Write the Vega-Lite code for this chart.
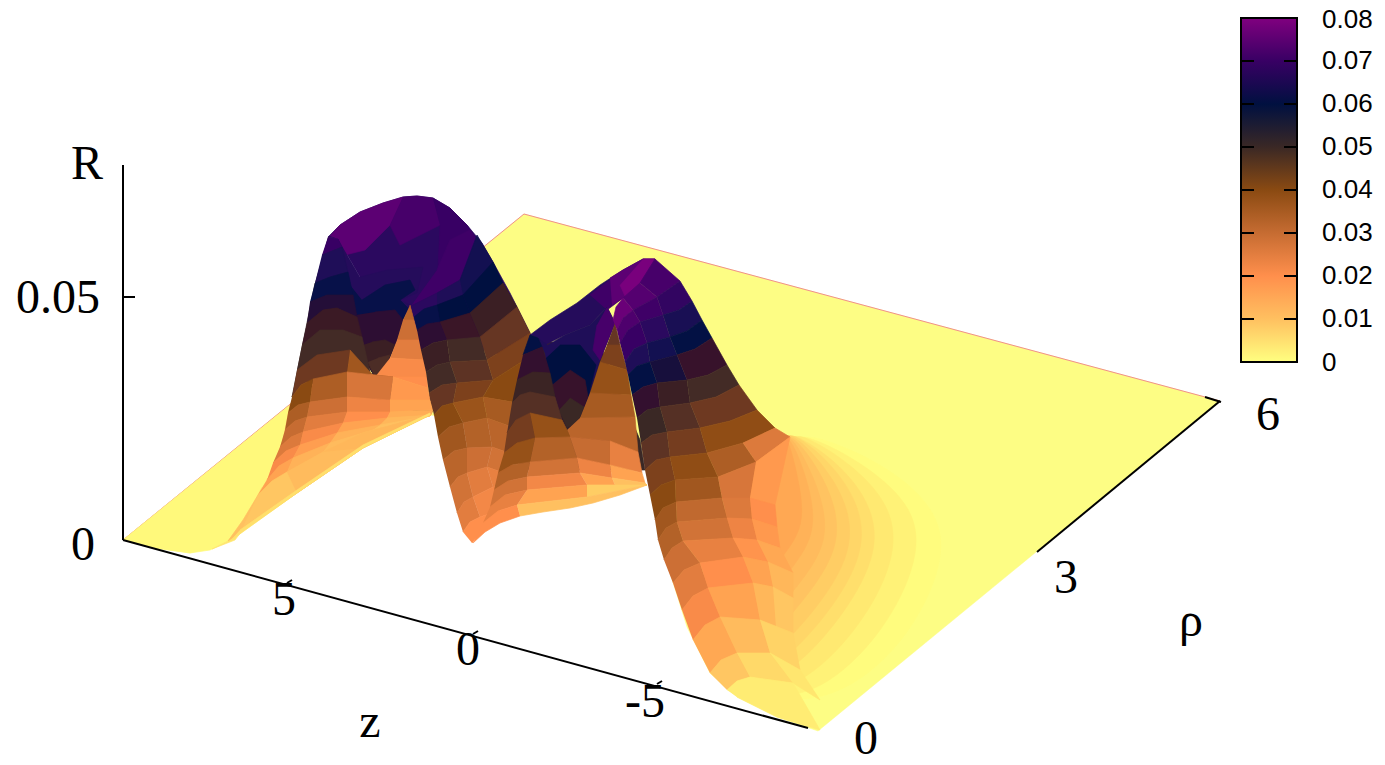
{"$schema":"https://vega.github.io/schema/vega-lite/v6.json","width":1385,"height":765,"padding":0,"autosize":"none","background":"white","config":{"view":{"stroke":null}},
"encoding":{"x":{"field":"x","type":"quantitative","axis":null,"scale":{"domain":[0,1385],"range":[0,1385]}},"y":{"field":"y","type":"quantitative","axis":null,"scale":{"domain":[0,765],"range":[0,765]}}},
"layer":[
{"data":{"values":[{"x":[123,524,1220,818,777,737,710,687,667,650,640,430,363,297,230,190,155],"y":[540,214,401,731,717,697,673,627,563,490,440,415,448,493,541,553,548]}]},"transform":[{"flatten":["x","y"]}],"mark":{"type":"line","fill":"#fdfd84","stroke":"#fdfd84","strokeWidth":0.5},"encoding":{"order":{"value":null}}},
{"data":{"values":[{"x":[123,524,1220],"y":[540,214,401]}]},"transform":[{"flatten":["x","y"]}],"mark":{"type":"line","stroke":"#f0908a","strokeWidth":1},"encoding":{"order":{"value":null}}},
{"data":{"values":[
{"v":0.001,"x":[123,290,283,270,255,243,228,210,190,155],"y":[540,405,440,475,500,520,541,550,553,548]},
{"v":0.004,"x":[262,245,228,212,235,258],"y":[487,520,541,549,540,510]},
{"v":0.01,"x":[290,283,270,255,243,228,297,363,430,300],"y":[405,440,475,500,520,541,493,448,415,380]},
{"v":0.05,"x":[328,338,350,370,400,440,430,300,292,315],"y":[237,239,270,375,380,400,415,380,397,283]},
{"v":0.068,"x":[328,340,360,383,403,417,433,450,467,482,493,510,530,520,415,400,360,338],"y":[237,225,212,203,197,196,198,208,225,243,262,293,333,360,330,300,277,239]},
{"v":0.075,"x":[330,340,360,383,403,390,365,345,338],"y":[236,225,212,203,197,225,250,255,239]},
{"v":0.072,"x":[403,417,433,440,400,390],"y":[197,196,198,225,245,225]},
{"v":0.07,"x":[433,450,467,477,460,437,440],"y":[198,208,225,240,280,293,225]},
{"v":0.067,"x":[338,347,357,367,375,385,397,403,410,400,417,423,387,360],"y":[239,273,317,363,377,368,340,320,305,300,293,267,270,277]},
{"v":0.062,"x":[350,357,367,375,385,397,403,408,400,415,410,385,362],"y":[285,317,363,377,368,340,320,308,300,290,280,285,300]},
{"v":0.057,"x":[356,367,375,385,397,403,395,375],"y":[315,363,377,368,340,320,310,312]},
{"v":0.052,"x":[363,367,375,385,395,385,372],"y":[345,363,377,368,345,340,342]},
{"v":0.048,"x":[368,375,385,390,378],"y":[362,377,368,355,358]},
{"v":0.032,"x":[410,414,403],"y":[305,320,320]},
{"v":0.029,"x":[403,414,420,397],"y":[320,320,340,340]},
{"v":0.025,"x":[397,420,424,390],"y":[340,340,360,358]},
{"v":0.021,"x":[390,424,427,375],"y":[358,360,377,377]},
{"v":0.07,"x":[328,338,342,322],"y":[237,239,247,255]},
{"v":0.066,"x":[322,342,348,330,315],"y":[255,247,272,277,283]},
{"v":0.062,"x":[315,330,348,353,327,310],"y":[283,277,272,295,295,302]},
{"v":0.058,"x":[310,327,353,357,337,323,307],"y":[302,295,295,317,308,310,323]},
{"v":0.053,"x":[307,323,337,357,362,343,320,302],"y":[323,310,308,317,337,330,330,345]},
{"v":0.049,"x":[302,320,343,362,370,350,317,297],"y":[345,330,330,337,372,350,355,370]},
{"v":0.044,"x":[297,317,350,347,313,301,292],"y":[370,355,350,372,379,385,397]},
{"v":0.036,"x":[350,370,375,393,347],"y":[350,372,377,377,372]},
{"v":0.02,"x":[375,427,428,393],"y":[377,377,388,377]},
{"v":0.04,"x":[292,301,313,310,298,288],"y":[397,385,379,402,405,413]},
{"v":0.034,"x":[313,347,347,310],"y":[379,372,397,402]},
{"v":0.027,"x":[347,393,390,347],"y":[372,377,400,397]},
{"v":0.018,"x":[393,428,430,390],"y":[377,388,400,400]},
{"v":0.034,"x":[288,298,310,307,295,285],"y":[413,405,402,417,421,430]},
{"v":0.029,"x":[310,347,347,307],"y":[402,397,412,417]},
{"v":0.023,"x":[347,390,390,347],"y":[397,400,412,412]},
{"v":0.016,"x":[390,430,433,390],"y":[400,400,410,412]},
{"v":0.03,"x":[285,295,307,303,291,280],"y":[430,421,417,432,437,447]},
{"v":0.025,"x":[307,347,343,303],"y":[417,412,423,432]},
{"v":0.02,"x":[347,390,387,343],"y":[412,412,418,423]},
{"v":0.014,"x":[390,433,431,387],"y":[412,410,415,418]},
{"v":0.026,"x":[280,291,303,300,286,273],"y":[447,437,432,445,451,463]},
{"v":0.021,"x":[303,343,337,300],"y":[432,423,433,445]},
{"v":0.016,"x":[343,387,380,337],"y":[423,418,425,433]},
{"v":0.012,"x":[387,431,430,380],"y":[418,415,416,425]},
{"v":0.021,"x":[273,286,300,293,279,267],"y":[463,451,445,458,466,480]},
{"v":0.017,"x":[300,337,330,293],"y":[445,433,443,458]},
{"v":0.013,"x":[337,380,373,330],"y":[433,425,430,443]},
{"v":0.01,"x":[380,430,373],"y":[425,416,430]},
{"v":0.016,"x":[267,279,293,287,272,258],"y":[480,466,458,472,481,495]},
{"v":0.013,"x":[293,330,323,287],"y":[458,443,452,472]},
{"v":0.011,"x":[330,373,430,363,323],"y":[443,430,415,433,452]},
{"v":0.009,"x":[258,272,287,297,243],"y":[495,481,472,493,527]},
{"v":0.011,"x":[287,323,363,297],"y":[472,452,448,493]},
{"v":0.012,"x":[323,363,430,363],"y":[452,433,415,448]},
{"v":0.005,"x":[240,297,363,430,430,363,297,230],"y":[530,490,445,413,415,448,493,541]},
{"v":0.071,"x":[411,437,460,477,470,450,437],"y":[306,293,280,240,230,240,270]},
{"v":0.068,"x":[411,437,437,424,414],"y":[306,293,305,309,317]},
{"v":0.066,"x":[437,460,463,437],"y":[293,280,295,305]},
{"v":0.064,"x":[460,477,493,463],"y":[280,235,262,295]},
{"v":0.062,"x":[414,424,437,440,427,417],"y":[317,309,305,322,324,330]},
{"v":0.06,"x":[437,463,470,440],"y":[305,295,313,322]},
{"v":0.06,"x":[463,493,503,470],"y":[295,262,283,313]},
{"v":0.057,"x":[417,427,440,447,433,421],"y":[330,324,322,340,343,350]},
{"v":0.054,"x":[440,470,480,447],"y":[322,313,337,340]},
{"v":0.052,"x":[470,503,517,480],"y":[313,283,307,337]},
{"v":0.052,"x":[421,433,447,450,437,426],"y":[350,343,340,362,365,372]},
{"v":0.049,"x":[447,480,487,450],"y":[340,337,360,362]},
{"v":0.045,"x":[480,517,530,487],"y":[337,307,333,360]},
{"v":0.049,"x":[426,437,450,457,442,429],"y":[372,365,362,383,385,393]},
{"v":0.046,"x":[450,487,493,457],"y":[362,360,380,383]},
{"v":0.042,"x":[487,530,540,493],"y":[360,333,350,380]},
{"v":0.045,"x":[429,442,457,453,442,434],"y":[393,385,383,403,406,415]},
{"v":0.042,"x":[457,493,483,453],"y":[383,380,397,403]},
{"v":0.04,"x":[493,540,530,483],"y":[380,350,405,397]},
{"v":0.04,"x":[434,442,453,463,449,438],"y":[415,406,403,423,427,437]},
{"v":0.037,"x":[453,483,487,463],"y":[403,397,418,423]},
{"v":0.035,"x":[483,530,520,487],"y":[397,405,430,418]},
{"v":0.036,"x":[438,449,463,467,454,443],"y":[437,427,423,448,451,460]},
{"v":0.033,"x":[463,487,492,467],"y":[423,418,447,448]},
{"v":0.032,"x":[487,520,515,492],"y":[418,430,455,447]},
{"v":0.032,"x":[443,454,467,467,458,450],"y":[460,451,448,473,477,487]},
{"v":0.029,"x":[467,492,487,467],"y":[448,447,467,473]},
{"v":0.028,"x":[492,515,510,487],"y":[447,455,475,467]},
{"v":0.028,"x":[450,458,467,473,464,457],"y":[487,477,473,497,502,513]},
{"v":0.025,"x":[467,487,493,473],"y":[473,467,487,497]},
{"v":0.024,"x":[487,510,510,493],"y":[467,475,485,487]},
{"v":0.025,"x":[457,464,473,480,470,463],"y":[513,502,497,517,522,532]},
{"v":0.022,"x":[473,493,510,500,480],"y":[497,487,485,510,517]},
{"v":0.02,"x":[463,470,480,500,472],"y":[532,522,517,510,543]},
{"v":0.05,"x":[530,540,560,600,640,645,520,515],"y":[335,338,345,345,440,470,470,400]},
{"v":0.067,"x":[530,550,577,600,623,643,655,640,623,607,590,565,545,538],"y":[335,320,303,285,270,259,259,283,298,307,325,335,345,338]},
{"v":0.071,"x":[590,610,635,640,623,607],"y":[295,280,268,283,298,310]},
{"v":0.075,"x":[610,623,643,655,640,623,612],"y":[278,270,259,259,283,298,305]},
{"v":0.079,"x":[643,655,640,625,620],"y":[259,259,283,296,285]},
{"v":0.066,"x":[538,545,553,560,567,578,588,600,615,607,590,565,548],"y":[338,353,387,413,428,422,397,360,323,307,325,335,345]},
{"v":0.06,"x":[546,553,560,567,578,588,596,580,560],"y":[358,387,413,428,422,397,365,345,345]},
{"v":0.055,"x":[552,560,567,578,588,585,570],"y":[385,413,428,422,397,380,370]},
{"v":0.05,"x":[559,567,578,584,570],"y":[410,428,422,407,398]},
{"v":0.072,"x":[607,615,600,593,597],"y":[307,323,360,350,325]},
{"v":0.045,"x":[615,620,607],"y":[323,345,345]},
{"v":0.042,"x":[607,620,627,600],"y":[345,345,370,362]},
{"v":0.038,"x":[600,627,631,590],"y":[362,370,395,393]},
{"v":0.035,"x":[590,631,635,580],"y":[393,395,417,418]},
{"v":0.032,"x":[580,635,638,610,570,567],"y":[418,417,452,441,437,430]},
{"v":0.061,"x":[523,530,538,542],"y":[355,335,338,347]},
{"v":0.056,"x":[523,542,550,533,517],"y":[355,347,373,372,380]},
{"v":0.051,"x":[517,533,550,555,530,520,512],"y":[380,372,373,397,392,395,403]},
{"v":0.047,"x":[512,520,530,555,562,530,516,507],"y":[403,395,392,397,420,413,420,433]},
{"v":0.043,"x":[507,516,530,535,517,504],"y":[433,420,413,438,443,453]},
{"v":0.038,"x":[530,562,567,570,535],"y":[413,420,430,437,438]},
{"v":0.038,"x":[504,517,535,530,512,498],"y":[453,443,438,462,465,473]},
{"v":0.033,"x":[535,570,577,530],"y":[438,437,458,462]},
{"v":0.03,"x":[570,610,610,577],"y":[437,441,465,458]},
{"v":0.024,"x":[610,638,642,610],"y":[441,452,473,465]},
{"v":0.033,"x":[498,512,530,527,508,494],"y":[473,465,462,477,481,490]},
{"v":0.028,"x":[530,577,580,527],"y":[462,458,473,477]},
{"v":0.023,"x":[577,610,612,580],"y":[458,465,478,473]},
{"v":0.016,"x":[610,642,645,612],"y":[465,473,483,478]},
{"v":0.028,"x":[494,508,527,527,505,490],"y":[490,481,477,490,495,507]},
{"v":0.022,"x":[527,580,587,527],"y":[477,473,485,490]},
{"v":0.016,"x":[580,612,615,587],"y":[473,478,485,485]},
{"v":0.01,"x":[612,645,647,615],"y":[478,483,485,485]},
{"v":0.024,"x":[490,505,527,517,498,483],"y":[507,495,490,505,511,523]},
{"v":0.016,"x":[527,587,587,517],"y":[490,485,497,505]},
{"v":0.008,"x":[587,647,587],"y":[485,485,497]},
{"v":0.02,"x":[483,498,517,520,500,485,473],"y":[523,511,505,516,523,532,543]},
{"v":0.01,"x":[517,587,647,620,593,570,543,520],"y":[505,497,485,495,503,508,512,516]}
]},
"transform":[{"window":[{"op":"row_number","as":"cell"}]},{"flatten":["x","y"]}],
"mark":{"type":"line","strokeWidth":0.7,"strokeJoin":"round"},
"encoding":{"detail":{"field":"cell","type":"nominal"},"order":{"value":null},
"fill":{"field":"v","type":"quantitative","legend":null,"scale":{"domain":[0,0.01,0.02,0.03,0.04,0.05,0.06,0.07,0.08],"range":["#ffff80","#ffc060","#ff8f4c","#c66c32","#8a4a12","#3a2825","#001040","#380064","#80007f"]}},
"stroke":{"field":"v","type":"quantitative","legend":null,"scale":{"domain":[0,0.01,0.02,0.03,0.04,0.05,0.06,0.07,0.08],"range":["#ffff80","#ffc060","#ff8f4c","#c66c32","#8a4a12","#3a2825","#001040","#380064","#80007f"]}}}},
{"data":{"values":[
{"v":0.0005,"x":[760,835,905,945,940,890,825,780,700,700],"y":[700,702,645,565,512,467,438,430,560,680]},
{"v":0.002,"x":[760,820,885,920,915,868,815,780,700,700],"y":[698,695,632,558,508,466,438,430,560,675]},
{"v":0.0035,"x":[755,805,865,898,890,850,808,780,700,700],"y":[692,685,622,553,503,463,437,430,560,668]},
{"v":0.005,"x":[750,790,845,880,870,835,800,780,700,700],"y":[685,675,615,550,500,460,437,430,560,660]},
{"v":0.0065,"x":[745,780,835,867,857,825,797,778,700,700],"y":[680,667,607,547,497,457,436,430,560,655]},
{"v":0.008,"x":[740,770,825,855,845,815,795,775,700,700],"y":[675,660,600,545,495,455,436,430,560,650]},
{"v":0.0095,"x":[735,760,812,842,832,807,792,772,700,700],"y":[668,650,592,542,492,452,436,430,560,645]},
{"v":0.011,"x":[730,750,800,830,820,800,790,770,700,700],"y":[660,640,585,540,490,450,436,430,560,640]},
{"v":0.013,"x":[725,742,787,817,810,795,787,767,700,700],"y":[650,630,575,535,487,447,436,429,560,630]},
{"v":0.015,"x":[720,735,775,805,800,790,785,765,700,700],"y":[640,620,565,530,485,445,436,428,560,620]}
]},"transform":[{"window":[{"op":"row_number","as":"cell"}]},{"flatten":["x","y"]}],
"mark":{"type":"line","strokeWidth":0.5,"interpolate":"basis-closed"},
"encoding":{"detail":{"field":"cell","type":"nominal"},"order":{"value":null},"fill":{"field":"v","type":"quantitative","legend":null},"stroke":{"field":"v","type":"quantitative","legend":null}}},
{"data":{"values":[
{"v":0.077,"x":[613,616,623,633,623,617],"y":[320,307,298,310,318,330]},
{"v":0.074,"x":[623,640,657,633],"y":[298,283,297,310]},
{"v":0.072,"x":[640,655,680,657],"y":[283,259,281,297]},
{"v":0.073,"x":[617,623,633,640,628,620],"y":[330,318,310,322,330,343]},
{"v":0.071,"x":[633,657,663,640],"y":[310,297,315,322]},
{"v":0.069,"x":[657,680,692,679,663],"y":[297,281,301,310,315]},
{"v":0.07,"x":[620,628,640,647,634,625],"y":[343,330,322,343,349,362]},
{"v":0.068,"x":[640,663,670,647],"y":[322,315,337,343]},
{"v":0.065,"x":[663,679,692,702,687,670],"y":[315,310,301,320,331,337]},
{"v":0.066,"x":[625,634,647,650,637,628],"y":[362,349,343,362,366,375]},
{"v":0.064,"x":[647,670,677,650],"y":[343,337,355,362]},
{"v":0.061,"x":[670,687,702,712,695,677],"y":[337,331,320,338,349,355]},
{"v":0.061,"x":[628,637,650,657,643,632],"y":[375,366,362,383,387,395]},
{"v":0.059,"x":[650,677,687,657],"y":[362,355,380,383]},
{"v":0.055,"x":[677,695,712,727,708,687],"y":[355,349,338,365,375,380]},
{"v":0.056,"x":[632,643,657,660,647,637],"y":[395,387,383,407,410,418]},
{"v":0.052,"x":[657,687,690,660],"y":[383,380,403,407]},
{"v":0.049,"x":[687,708,727,739,716,690],"y":[380,375,365,385,397,403]},
{"v":0.05,"x":[637,647,660,667,652,641],"y":[418,410,407,432,435,443]},
{"v":0.047,"x":[660,690,700,667],"y":[407,403,428,432]},
{"v":0.044,"x":[690,716,739,757,730,700],"y":[403,397,385,410,421,428]},
{"v":0.046,"x":[641,652,667,670,656,645],"y":[443,435,432,457,460,470]},
{"v":0.043,"x":[667,700,707,670],"y":[432,428,453,457]},
{"v":0.039,"x":[700,730,757,775,743,707],"y":[428,421,410,428,443,453]},
{"v":0.042,"x":[645,656,670,675,661,650],"y":[470,460,457,480,485,495]},
{"v":0.039,"x":[670,707,718,675],"y":[457,453,477,480]},
{"v":0.034,"x":[707,743,756,718],"y":[453,443,462,477]},
{"v":0.026,"x":[743,775,790,756],"y":[443,428,437,462]},
{"v":0.04,"x":[650,661,675,676,663,655],"y":[495,485,480,502,508,520]},
{"v":0.036,"x":[675,718,722,676],"y":[480,477,498,502]},
{"v":0.027,"x":[718,756,750,722],"y":[477,462,498,498]},
{"v":0.018,"x":[756,790,775,750],"y":[462,437,505,498]},
{"v":0.036,"x":[655,663,676,677,666,658],"y":[520,508,502,522,528,540]},
{"v":0.031,"x":[676,722,727,677],"y":[502,498,518,522]},
{"v":0.026,"x":[722,750,752,727],"y":[498,498,519,518]},
{"v":0.02,"x":[750,775,777,752],"y":[498,505,527,519]},
{"v":0.033,"x":[658,666,677,683,672,664],"y":[540,528,522,541,548,560]},
{"v":0.028,"x":[677,727,733,683],"y":[522,518,538,541]},
{"v":0.023,"x":[727,752,757,733],"y":[518,519,540,538]},
{"v":0.018,"x":[752,777,780,757],"y":[519,527,548,540]},
{"v":0.029,"x":[664,672,683,700,684,673],"y":[560,548,541,563,570,583]},
{"v":0.024,"x":[683,733,743,700],"y":[541,538,557,563]},
{"v":0.019,"x":[733,757,768,743],"y":[538,540,562,557]},
{"v":0.015,"x":[757,780,793,768],"y":[540,548,573,562]},
{"v":0.025,"x":[673,684,700,708,693,682],"y":[583,570,563,588,596,610]},
{"v":0.02,"x":[700,743,753,708],"y":[563,557,583,588]},
{"v":0.016,"x":[743,768,773,753],"y":[557,562,587,583]},
{"v":0.012,"x":[768,793,793,773],"y":[562,573,598,587]},
{"v":0.021,"x":[682,693,708,720,705,693],"y":[610,596,588,617,625,640]},
{"v":0.016,"x":[708,753,760,720],"y":[588,583,620,617]},
{"v":0.012,"x":[753,773,776,760],"y":[583,587,627,620]},
{"v":0.009,"x":[773,793,793,776],"y":[587,598,633,627]},
{"v":0.015,"x":[693,705,720,737,721,710],"y":[640,625,617,653,660,673]},
{"v":0.011,"x":[720,760,770,737],"y":[617,620,653,653]},
{"v":0.007,"x":[760,793,800,770],"y":[620,633,670,653]},
{"v":0.009,"x":[710,721,737,750,737,727],"y":[673,660,653,677,681,690]},
{"v":0.006,"x":[737,770,793,750],"y":[653,653,683,677]},
{"v":0.004,"x":[770,800,820,793],"y":[653,670,700,683]},
{"v":0.003,"x":[727,737,750,793,820,777,737],"y":[690,681,677,683,730,717,697]}
]},"transform":[{"window":[{"op":"row_number","as":"cell"}]},{"flatten":["x","y"]}],
"mark":{"type":"line","strokeWidth":0.7,"strokeJoin":"round"},
"encoding":{"detail":{"field":"cell","type":"nominal"},"order":{"value":null},"fill":{"field":"v","type":"quantitative","legend":null},"stroke":{"field":"v","type":"quantitative","legend":null}}},
{"data":{"values":[{"x":1241,"x2":1297,"y":18,"y2":362}]},
"mark":{"type":"rect","stroke":"black","strokeWidth":2,"fill":{"gradient":"linear","x1":0,"y1":1,"x2":0,"y2":0,"stops":[{"offset":0,"color":"#ffff80"},{"offset":0.125,"color":"#ffc060"},{"offset":0.25,"color":"#ff8f4c"},{"offset":0.375,"color":"#c66c32"},{"offset":0.5,"color":"#8a4a12"},{"offset":0.625,"color":"#3a2825"},{"offset":0.75,"color":"#001040"},{"offset":0.875,"color":"#380064"},{"offset":1,"color":"#80007f"}]}},
"encoding":{"x2":{"field":"x2"},"y2":{"field":"y2"}}},
{"data":{"values":[{"t":"0","x":1322,"y":363},{"t":"0.01","x":1322,"y":319},{"t":"0.02","x":1322,"y":276},{"t":"0.03","x":1322,"y":233},{"t":"0.04","x":1322,"y":190},{"t":"0.05","x":1322,"y":147},{"t":"0.06","x":1322,"y":104},{"t":"0.07","x":1322,"y":61},{"t":"0.08","x":1322,"y":20}]},
"mark":{"type":"text","font":"Liberation Sans","fontSize":26,"color":"black","align":"left","baseline":"middle"},
"encoding":{"text":{"field":"t","type":"nominal"}}},
{"data":{"values":[
{"x":[123,123],"y":[165,540]},{"x":[123,135],"y":[297,297]},{"x":[123,808],"y":[540,728]},
{"x":[287,292],"y":[583,580]},{"x":[473,478],"y":[634,631]},{"x":[657,662],"y":[684,681]},
{"x":[1037,1220],"y":[552,401]},{"x":[1205,1221],"y":[397,402]},
{"x":[1241,1254],"y":[61,61]},{"x":[1284,1297],"y":[61,61]},{"x":[1241,1254],"y":[104,104]},{"x":[1284,1297],"y":[104,104]},{"x":[1241,1254],"y":[147,147]},{"x":[1284,1297],"y":[147,147]},{"x":[1241,1254],"y":[190,190]},{"x":[1284,1297],"y":[190,190]},{"x":[1241,1254],"y":[233,233]},{"x":[1284,1297],"y":[233,233]},{"x":[1241,1254],"y":[276,276]},{"x":[1284,1297],"y":[276,276]},{"x":[1241,1254],"y":[319,319]},{"x":[1284,1297],"y":[319,319]}
]},"transform":[{"window":[{"op":"row_number","as":"seg"}]},{"flatten":["x","y"]}],"mark":{"type":"line","stroke":"black","strokeWidth":2},"encoding":{"detail":{"field":"seg","type":"nominal"},"order":{"value":null}}},
{"data":{"values":[
{"t":"R","x":87,"y":165},{"t":"0.05","x":58,"y":299},{"t":"0","x":83,"y":546},{"t":"5","x":284,"y":601},{"t":"0","x":468,"y":651},{"t":"-5","x":645,"y":703},{"t":"z","x":370,"y":723},{"t":"0","x":866,"y":740},{"t":"3","x":1066,"y":579},{"t":"6","x":1268,"y":416},{"t":"ρ","x":1191,"y":622}
]},"mark":{"type":"text","font":"Liberation Serif","fontSize":48,"color":"black","baseline":"middle","align":"center"},"encoding":{"text":{"field":"t","type":"nominal"}}}
]}
